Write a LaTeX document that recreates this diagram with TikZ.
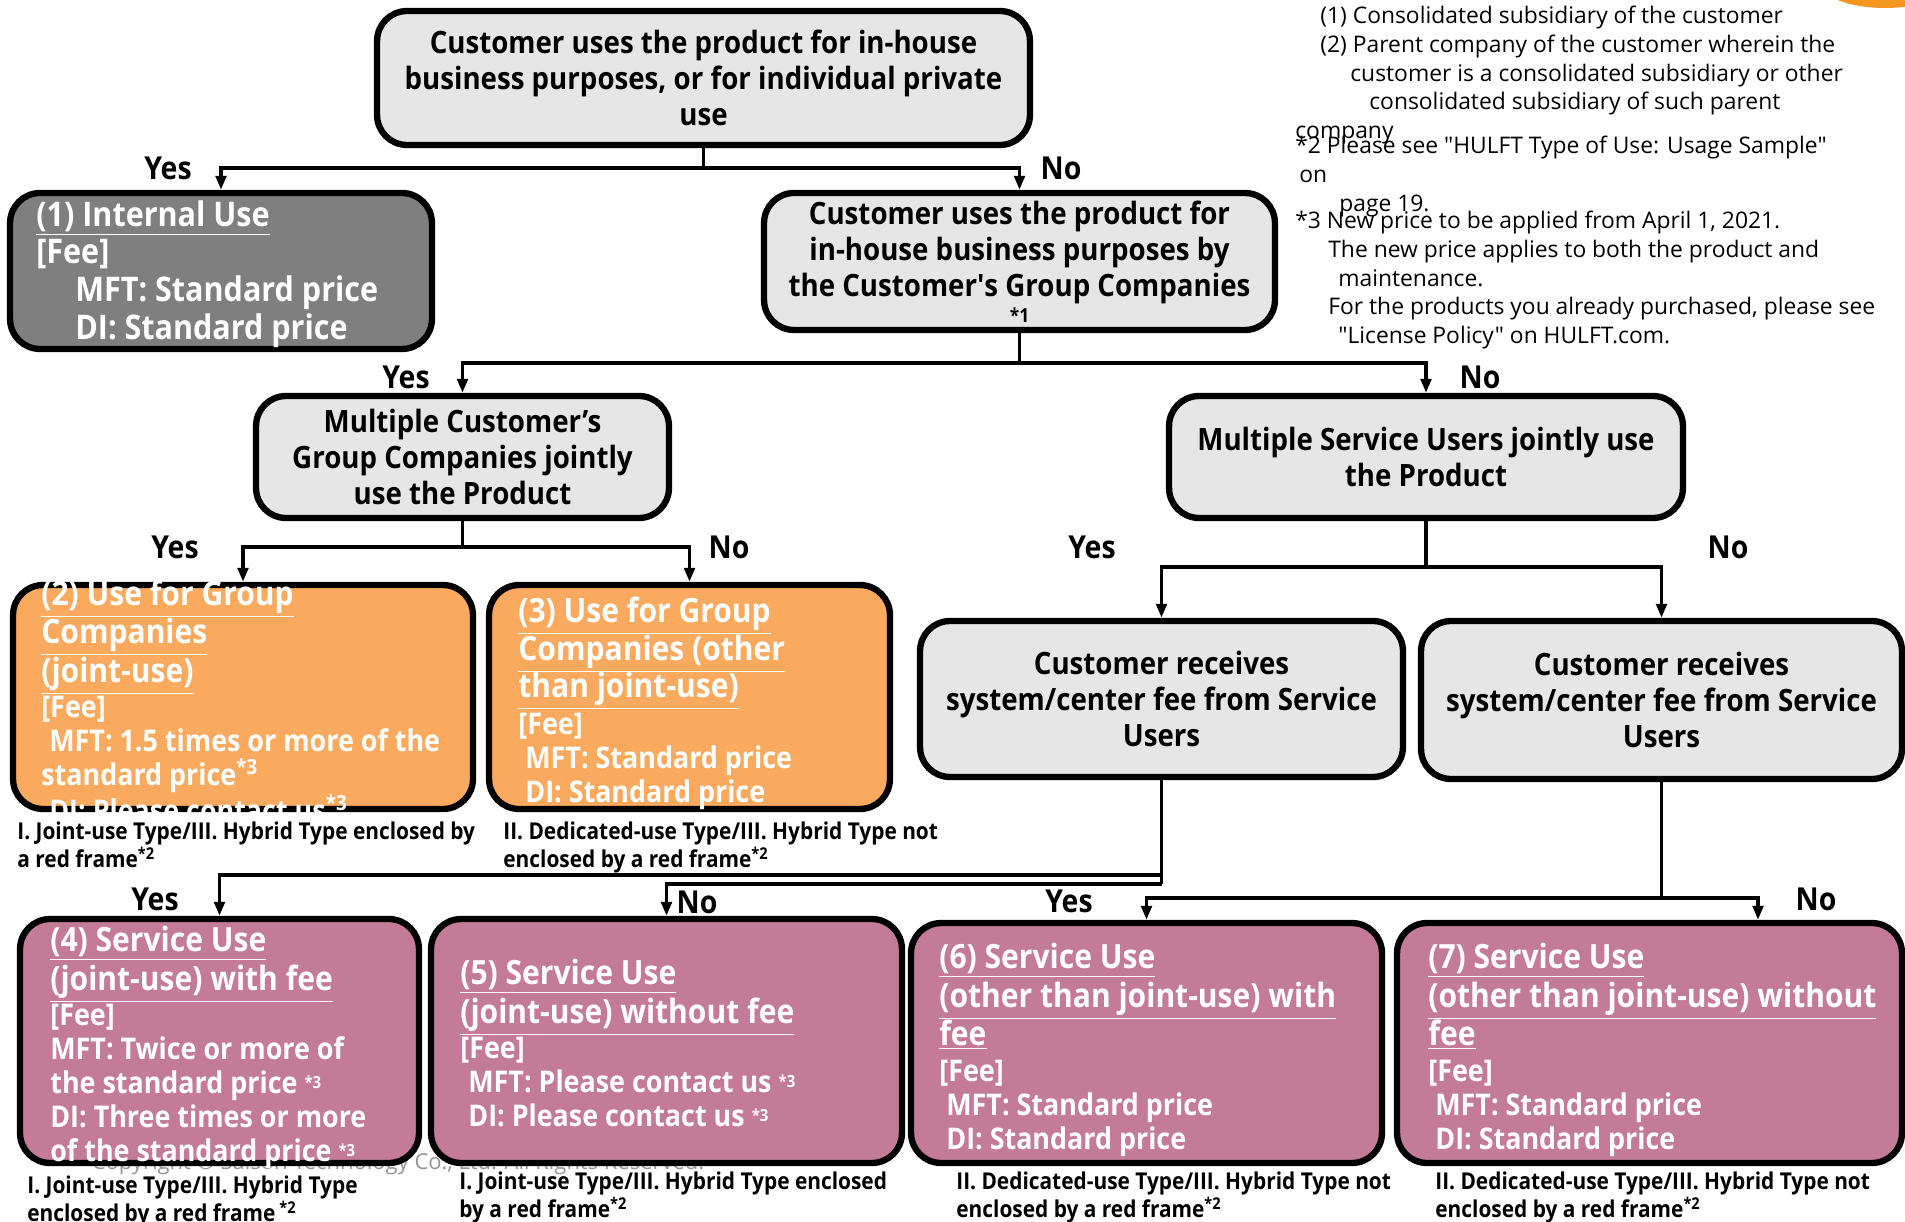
\documentclass[tikz,border=0pt]{standalone}
\usepackage{fontspec}
\setmainfont{Open Sans}[FakeStretch=0.9]
\newfontfamily\notefont{Open Sans}
\newfontfamily\plainquote{Open Sans}[FakeStretch=0.9, Ligatures=TeXOff]
\usetikzlibrary{arrows.meta,positioning,calc}

\definecolor{askgray}{RGB}{230,230,230}
\definecolor{usegray}{RGB}{127,127,127}
\definecolor{grporange}{RGB}{250,170,95}
\definecolor{svcpink}{RGB}{195,123,151}
\definecolor{copygray}{RGB}{150,150,150}
\definecolor{logoorange}{RGB}{245,150,30}

\newcommand\askfont{\bfseries\fontsize{17.5}{20.5}\selectfont}
\newcommand\feefont{\bfseries\fontsize{17}{19.3}\selectfont}
\newcommand\ansfont{\bfseries\fontsize{18}{20}\selectfont}
\newcommand\capfont{\bfseries\fontsize{13.2}{13.6}\selectfont}
\newcommand\ttl[1]{\raisebox{0pt}[\height][0.2em]{\fontsize{19}{21.5}\selectfont\underline{#1}}}
\newcommand\stx[1]{\textsuperscript{#1}}
\newcommand\smallref[1]{\raisebox{0.15em}{\fontsize{9.5}{9.5}\selectfont #1}}

\tikzset{
  frame/.style={draw=black, line width=3.6pt, rounded corners=0.6cm, inner sep=0pt},
  askbox/.style={frame, fill=askgray, align=center, font=\askfont},
  usebox/.style={frame, fill=usegray},
  grpbox/.style={frame, fill=grporange},
  svcbox/.style={frame, fill=svcpink},
  feetext/.style={anchor=north west, inner sep=0pt, align=left, text=white, font=\feefont},
  typenote/.style={anchor=north west, inner sep=0pt, align=left, font=\capfont},
  answer/.style={font=\ansfont, inner sep=0pt},
  footnote/.style={anchor=north west, inner sep=0pt, align=left, font=\notefont\fontsize{13}{16.3}\selectfont},
  link/.style={line width=2.1pt},
  flow/.style={link, -{Triangle[length=8pt,width=6pt]}}
}

\begin{document}
\begin{tikzpicture}[x=0.02cm, y=-0.02cm]
\path[use as bounding box, fill=white] (0,0) rectangle (1905,1222);
\fill[logoorange] (1885,-22) ellipse [x radius=1.4cm, y radius=0.6cm];

% notes, top right
\node[footnote] (note1) at (1295,6) {\hspace*{0.5cm}(1) Consolidated subsidiary of the customer\\
  \hspace*{0.5cm}(2) Parent company of the customer wherein the\\
  \hspace*{1.1cm}customer is a consolidated subsidiary or other\\
  \hspace*{1.48cm}consolidated subsidiary of such parent\\
  company};
\node[footnote] (note2) at (1295,136) {*2 Please see "HULFT Type of Use: Usage Sample"\\
  \hspace*{0.08cm}on\\
  \hspace*{0.88cm}page 19.};
\node[footnote] (note3) at (1295,211) {*3 New price to be applied from April 1, 2021.\\
  \hspace*{0.66cm}The new price applies to both the product and\\
  \hspace*{0.86cm}maintenance.\\
  \hspace*{0.66cm}For the products you already purchased, please see\\
  \hspace*{0.86cm}"License Policy" on HULFT.com.};

\node[font=\notefont\fontsize{12.5}{14}\selectfont, text=copygray] (copy) at (398,1164) {Copyright © Saison Technology Co., Ltd. All Rights Reserved.};

% question boxes
\node[askbox, minimum width=13.06cm, minimum height=2.68cm] (inhouse) at (703.5,78)
  {Customer uses the product for in-house\\business purposes, or for individual private\\use};
\node[askbox, minimum width=10.22cm, minimum height=2.74cm] (groupuse) at (1019.5,261.5)
  {Customer uses the product for\\in-house business purposes by\\the Customer{\plainquote '}s Group Companies\\[-0.2cm]{\fontsize{11}{12}\selectfont *1}};
\node[askbox, minimum width=8.26cm, minimum height=2.44cm] (multicust) at (462.5,457)
  {Multiple Customer’s\\Group Companies jointly\\use the Product};
\node[askbox, minimum width=10.28cm, minimum height=2.44cm] (multisvc) at (1426,457)
  {Multiple Service Users jointly use\\the Product};
\node[askbox, minimum width=9.66cm, minimum height=3.12cm] (jointrecv) at (1161.5,699)
  {Customer receives\\system/center fee from Service\\Users};
\node[askbox, minimum width=9.62cm, minimum height=3.16cm] (otherrecv) at (1661.5,700)
  {Customer receives\\system/center fee from Service\\Users};

% result boxes
\node[usebox, minimum width=8.44cm, minimum height=3.12cm] (internal) at (221,271) {};
\node[grpbox, minimum width=9.2cm, minimum height=4.48cm] (grpjoint) at (243,697) {};
\node[grpbox, minimum width=8.02cm, minimum height=4.48cm] (grpother) at (689.5,697) {};
\node[svcbox, minimum width=7.98cm, minimum height=4.88cm] (svcjoint) at (219.5,1041) {};
\node[svcbox, minimum width=9.42cm, minimum height=4.88cm] (svcjointfree) at (666.5,1041) {};
\node[svcbox, minimum width=9.42cm, minimum height=4.8cm] (svcother) at (1146.5,1043) {};
\node[svcbox, minimum width=10.1cm, minimum height=4.8cm] (svcotherfree) at (1649.5,1043) {};

\node[feetext, font=\bfseries\fontsize{19.3}{21.5}\selectfont] (internal-t) at (36,200)
  {\underline{(1) Internal Use}\\{[Fee]}\\\hspace*{0.78cm}MFT: Standard price\\\hspace*{0.78cm}DI: Standard price};
\node[feetext] (grpjoint-t) at (41,580)
  {\ttl{(2) Use for Group}\\[0.08cm]\ttl{Companies}\\[0.1cm]\ttl{(joint-use)}\\[0.02cm]{[Fee]}\\
   \hspace*{0.16cm}MFT: 1.5 times or more of the\\standard price\stx{*3}\\\hspace*{0.16cm}DI: Please contact us\stx{*3}};
\node[feetext] (grpother-t) at (518,597)
  {\ttl{(3) Use for Group}\\[0.08cm]\ttl{Companies (other}\\[0.06cm]\ttl{than joint-use)}\\[0.06cm]{[Fee]}\\
   \hspace*{0.14cm}MFT: Standard price\\\hspace*{0.14cm}DI: Standard price};
\node[feetext] (svcjoint-t) at (50,926)
  {\ttl{(4) Service Use}\\[0.1cm]\ttl{(joint-use) with fee}\\[0.02cm]{[Fee]}\\MFT: Twice or more of\\
   the standard price \smallref{*3}\\DI: Three times or more\\of the standard price \smallref{*3}};
\node[feetext] (svcjointfree-t) at (460,959)
  {\ttl{(5) Service Use}\\[0.1cm]\ttl{(joint-use) without fee}\\[0.02cm]{[Fee]}\\
   \hspace*{0.16cm}MFT: Please contact us \smallref{*3}\\\hspace*{0.16cm}DI: Please contact us \smallref{*3}};
\node[feetext] (svcother-t) at (939,943)
  {\ttl{(6) Service Use}\\[0.1cm]\ttl{(other than joint-use) with}\\[0.08cm]\ttl{fee}\\[0.04cm]{[Fee]}\\
   \hspace*{0.14cm}MFT: Standard price\\\hspace*{0.14cm}DI: Standard price};
\node[feetext] (svcotherfree-t) at (1428,943)
  {\ttl{(7) Service Use}\\[0.1cm]\ttl{(other than joint-use) without}\\[0.08cm]\ttl{fee}\\[0.04cm]{[Fee]}\\
   \hspace*{0.14cm}MFT: Standard price\\\hspace*{0.14cm}DI: Standard price};

% type notes under the result boxes
\node[typenote] (grpjoint-n) at (17,822) {I. Joint-use Type/III. Hybrid Type enclosed by\\a red frame\stx{*2}};
\node[typenote] (grpother-n) at (503,822) {II. Dedicated-use Type/III. Hybrid Type not\\enclosed by a red frame\stx{*2}};
\node[typenote] (svcjoint-n) at (27,1176) {I. Joint-use Type/III. Hybrid Type\\enclosed by a red frame\,\stx{*2}};
\node[typenote] (svcjointfree-n) at (459,1172) {I. Joint-use Type/III. Hybrid Type enclosed\\by a red frame\stx{*2}};
\node[typenote] (svcother-n) at (956,1172) {II. Dedicated-use Type/III. Hybrid Type not\\enclosed by a red frame\stx{*2}};
\node[typenote] (svcotherfree-n) at (1435,1172) {II. Dedicated-use Type/III. Hybrid Type not\\enclosed by a red frame\stx{*2}};

% connectors
\coordinate (j1) at (703.5,168);
\draw[link] (inhouse.south) -- (j1);
\draw[flow] (j1) -| (internal.north);
\draw[flow] (j1) -| (groupuse.north);
\coordinate (j2) at (1019.5,363);
\draw[link] (groupuse.south) -- (j2);
\draw[flow] (j2) -| (multicust.north);
\draw[flow] (j2) -| (multisvc.north);
\coordinate (j3) at (462.5,547);
\draw[link] (multicust.south) -- (j3);
\draw[flow] (j3) -| (grpjoint.north);
\draw[flow] (j3) -| (grpother.north);
\coordinate (j4) at (1426,567);
\draw[link] (multisvc.south) -- (j4);
\draw[flow] (j4) -| (jointrecv.north);
\draw[flow] (j4) -| (otherrecv.north);
\coordinate (j5) at (jointrecv.south |- 0,884);
\coordinate (j5up) at (jointrecv.south |- 0,875);
\draw[link] (jointrecv.south) -- (j5);
\draw[flow] (j5) -| (svcjointfree.north);
\draw[flow] (j5up) -| (svcjoint.north);
\coordinate (j6) at (otherrecv.south |- 0,898);
\draw[link] (otherrecv.south) -- (j6);
\draw[flow] (j6) -| (svcother.north);
\draw[flow] (j6) -| (svcotherfree.north -| 1758,0);

% answers
\node[answer] (yes1) at (168,168) {Yes};
\node[answer] (no1) at (1061,168) {No};
\node[answer] (yes2) at (406,377) {Yes};
\node[answer] (no2) at (1480,377) {No};
\node[answer] (yes3) at (175,547) {Yes};
\node[answer] (no3) at (729,547) {No};
\node[answer] (yes4) at (1092,547) {Yes};
\node[answer] (no4) at (1728,547) {No};
\node[answer] (yes5) at (155,899) {Yes};
\node[answer] (no5) at (697,902) {No};
\node[answer] (yes6) at (1069,901) {Yes};
\node[answer] (no6) at (1816,899) {No};
\end{tikzpicture}
\end{document}
